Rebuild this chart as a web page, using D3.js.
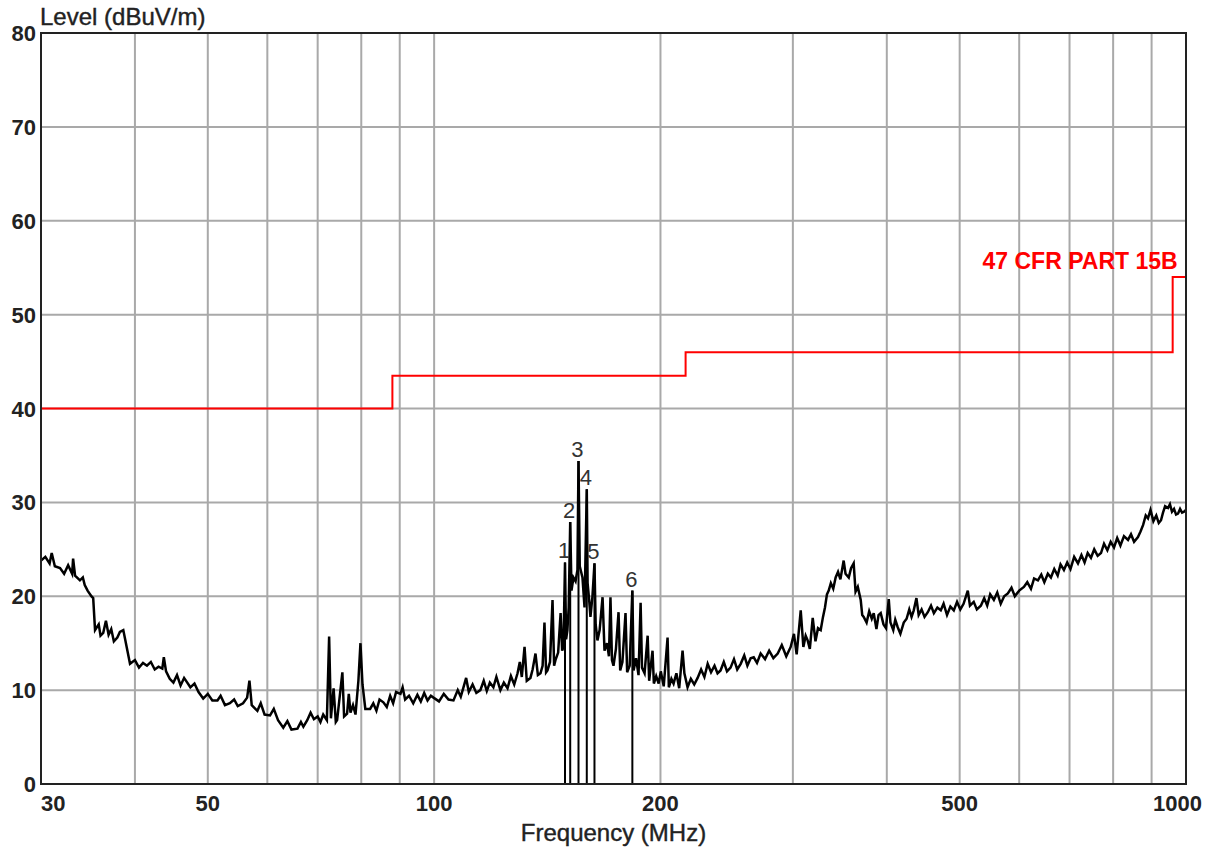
<!DOCTYPE html>
<html>
<head>
<meta charset="utf-8">
<script src="https://cdn.jsdelivr.net/npm/d3@7"></script>
<style>
  body { margin: 0; background: #fff; }
  svg { display: block; font-family: "Liberation Sans", Arial, sans-serif; }
</style>
</head>
<body>
<div class="container"></div>
<script>
// y axis
var levelTicks = [0, 10, 20, 30, 40, 50, 60, 70, 80];
// x axis
var freqGrid = [40, 50, 60, 70, 80, 90, 100, 200, 300, 400, 500, 600, 700, 800, 900];
var freqLabels = [30, 50, 100, 200, 500, 1000];

// limit line (step)
var limitMHz = [30, 88, 216, 960, 1000];
var limitDb = [40, 43.5, 46, 54, 54];
var limitName = '47 CFR PART 15B';

// markers
var markerNo = [1, 2, 3, 4, 5, 6];
var markerMHz = [149.3, 151.7, 155.6, 159.6, 163.4, 183.5];
var markerDb = [23.6, 27.9, 34.4, 31.4, 23.5, 20.6];

var trace = [
    [30, 23.8], [30.4, 24.2], [30.8, 23.5], [31.0, 24.6], [31.3, 23.2], [31.8, 23.0], [32.2, 22.4],
    [32.6, 23.3], [33.0, 22.4], [33.1, 24.0], [33.3, 22.2], [33.8, 21.7], [34.1, 22.0], [34.3, 21.2],
    [34.6, 20.6], [35.0, 20.0], [35.2, 19.8], [35.4, 16.4], [35.8, 17.0], [36.0, 15.8], [36.3, 16.1],
    [36.6, 17.4], [36.9, 15.9], [37.2, 16.5], [37.5, 15.2], [37.9, 15.6], [38.2, 16.2], [38.6, 16.4],
    [38.8, 15.5], [39.0, 14.6], [39.4, 12.8], [40.0, 13.2], [40.5, 12.4], [41.0, 12.9], [41.5, 12.6],
    [42.0, 13.0], [42.5, 12.2], [43.0, 12.5], [43.5, 12.3], [43.7, 13.5], [44.0, 12.0], [44.5, 11.2],
    [45.0, 10.8], [45.5, 11.6], [46.0, 10.5], [46.5, 11.3], [47.4, 10.3], [48.0, 10.7], [48.6, 9.8],
    [49.3, 9.1], [50.0, 9.6], [50.7, 8.9], [51.5, 8.9], [52.0, 9.4], [52.7, 8.4], [53.5, 8.6],
    [54.2, 9.0], [54.8, 8.3], [55.7, 8.6], [56.4, 9.2], [56.8, 11.0], [57.2, 8.4], [58.2, 7.8],
    [58.8, 8.6], [59.5, 7.4], [60.5, 7.3], [61.2, 8.0], [62.0, 6.8], [63.0, 6.0], [63.8, 6.7],
    [64.6, 5.8], [65.8, 5.9], [66.5, 6.6], [67.0, 6.1], [67.8, 6.8], [68.5, 7.6], [69.2, 6.9],
    [70.0, 7.2], [70.6, 6.6], [71.2, 7.4], [72.0, 6.8], [72.5, 15.7], [72.9, 7.0], [73.5, 10.2],
    [74.0, 6.6], [74.3, 6.8], [75.5, 11.9], [75.9, 7.2], [76.6, 7.5], [77.0, 9.6], [77.4, 7.6],
    [78.0, 8.4], [78.6, 7.4], [79.3, 11.0], [79.8, 15.0], [80.3, 10.6], [81.0, 8.0], [82.2, 8.0],
    [83.0, 8.6], [83.8, 7.8], [84.6, 9.0], [85.6, 8.7], [86.5, 8.2], [87.4, 9.4], [88.2, 8.6],
    [89.0, 9.8], [90.2, 9.6], [90.8, 10.3], [91.5, 9.0], [92.6, 9.4], [93.8, 8.6], [95.0, 9.5],
    [96.0, 8.8], [97.0, 9.7], [98.0, 8.9], [99.0, 9.4], [99.8, 9.2], [101.5, 8.8], [103.0, 9.6],
    [104.5, 9.0], [106.1, 8.9], [107.5, 10.0], [108.5, 9.3], [109.4, 10.3], [110.3, 11.3], [111.2, 9.8],
    [112.5, 10.6], [113.8, 9.7], [115.2, 10.0], [116.4, 11.0], [117.5, 9.9], [118.6, 10.8], [119.9, 10.3],
    [121.0, 11.4], [122.5, 10.0], [123.8, 10.8], [125.2, 10.2], [126.5, 11.5], [127.8, 10.6], [129.1, 11.8],
    [130.0, 13.0], [130.8, 11.4], [131.9, 14.6], [132.8, 11.0], [134.3, 11.3], [135.2, 12.2], [136.4, 13.9],
    [137.4, 11.6], [138.5, 11.8], [139.4, 12.6], [140.2, 17.2], [140.9, 11.9], [141.5, 12.1], [142.6, 13.0],
    [143.7, 19.6], [144.4, 12.6], [145.0, 13.2], [146.2, 14.0], [147.3, 18.2], [148.0, 14.2], [148.6, 14.6],
    [149.3, 23.6], [149.8, 15.4], [150.4, 16.4], [151.0, 18.8], [151.7, 27.9], [152.3, 20.6], [153.2, 22.0],
    [154.2, 21.6], [155.1, 22.8], [155.6, 34.4], [156.2, 23.2], [157.5, 22.0], [158.5, 18.8], [159.6, 31.4],
    [160.0, 21.4], [160.8, 19.5], [161.4, 17.8], [162.4, 20.0], [163.4, 23.5], [164.0, 17.0], [164.9, 15.3],
    [166.0, 16.4], [167.5, 19.9], [168.5, 14.2], [169.8, 15.0], [170.8, 13.6], [171.6, 19.9], [172.4, 13.2],
    [173.2, 12.6], [174.5, 14.4], [175.9, 18.3], [176.8, 12.1], [178.0, 13.0], [179.7, 18.2], [180.6, 11.9],
    [182.0, 12.6], [183.5, 20.6], [184.2, 12.1], [185.6, 13.4], [187.0, 11.6], [188.2, 19.3], [189.0, 12.4],
    [190.5, 11.8], [192.3, 15.8], [193.2, 11.0], [195.2, 14.2], [196.0, 10.7], [197.4, 11.5], [198.9, 10.7],
    [200.2, 12.0], [202.0, 10.4], [204.4, 15.6], [205.2, 10.3], [206.8, 11.2], [208.2, 10.7], [210.0, 11.8],
    [211.8, 10.2], [214.0, 14.2], [215.2, 11.8], [217.3, 10.3], [219.5, 11.2], [221.8, 10.6], [224.1, 11.3],
    [226.5, 12.2], [228.8, 11.4], [231.1, 12.8], [233.5, 11.9], [236.0, 12.6], [238.2, 11.8], [240.4, 12.1],
    [242.8, 13.0], [245.2, 12.0], [247.9, 12.4], [250.5, 13.3], [253.0, 12.2], [255.7, 12.8], [258.5, 13.7],
    [261.0, 12.6], [263.6, 13.4], [266.1, 13.5], [268.8, 12.9], [271.8, 13.9], [275.5, 13.3], [279.0, 14.2],
    [282.6, 13.4], [286.4, 13.9], [290.0, 14.8], [294.0, 13.6], [298.0, 14.6], [301.0, 16.0], [303.5, 13.8],
    [307.3, 18.5], [309.8, 14.6], [312.0, 15.8], [313.9, 15.3], [316.0, 14.4], [318.8, 17.7], [321.5, 15.2],
    [324.0, 16.6], [326.7, 16.4], [329.0, 17.8], [331.0, 18.8], [333.0, 20.2], [334.8, 20.6], [337.0, 21.4],
    [339.5, 20.8], [342.0, 22.0], [344.5, 22.6], [347.0, 21.8], [350.5, 23.8], [352.5, 22.4], [356.0, 22.0],
    [358.5, 23.0], [361.4, 23.5], [363.5, 20.5], [366.0, 21.0], [369.3, 19.6], [371.0, 18.0], [372.7, 17.8],
    [376.0, 17.2], [379.0, 18.4], [382.0, 17.6], [384.3, 18.2], [387.5, 16.5], [390.0, 18.0], [392.6, 18.2],
    [396.0, 17.0], [399.0, 16.6], [402.4, 19.7], [404.5, 17.2], [408.0, 16.4], [410.5, 17.5], [413.6, 16.7],
    [417.0, 16.0], [421.3, 17.2], [425.0, 17.6], [428.5, 18.6], [431.5, 17.8], [434.4, 18.5], [438.0, 19.8],
    [441.0, 18.0], [445.0, 18.6], [449.0, 17.8], [453.5, 18.3], [458.0, 19.0], [462.0, 18.2], [467.0, 18.8],
    [471.9, 18.5], [476.0, 19.2], [481.0, 18.0], [486.0, 18.9], [491.1, 18.5], [496.0, 19.4], [501.0, 18.6],
    [506.0, 19.2], [512.6, 20.6], [516.0, 19.0], [522.0, 19.4], [527.0, 18.6], [533.5, 19.0], [539.0, 19.8],
    [544.0, 19.0], [549.0, 20.2], [555.2, 19.6], [561.0, 20.4], [567.0, 19.2], [573.0, 20.0], [579.5, 20.3],
    [586.0, 20.9], [592.0, 20.0], [600.0, 20.6], [608.7, 21.0], [615.0, 21.5], [622.0, 20.8], [628.0, 21.9],
    [635.4, 21.7], [642.0, 22.3], [648.0, 21.5], [655.0, 22.4], [661.2, 22.0], [668.0, 22.9], [675.0, 22.2],
    [681.0, 23.4], [688.1, 22.8], [695.0, 23.6], [702.0, 22.9], [710.0, 24.2], [718.3, 23.5], [726.0, 24.4],
    [733.0, 23.6], [740.0, 24.6], [747.5, 24.1], [755.0, 25.0], [763.0, 24.3], [770.8, 24.6], [778.0, 25.6],
    [786.0, 24.9], [794.0, 25.8], [802.1, 25.2], [810.0, 26.2], [818.0, 25.4], [827.0, 26.4], [837.3, 26.0],
    [845.0, 26.6], [853.0, 25.8], [863.2, 26.3], [870.0, 26.9], [877.0, 27.6], [884.0, 28.6], [890.1, 28.3],
    [897.0, 29.2], [905.0, 28.0], [913.0, 28.6], [920.0, 27.8], [926.3, 28.1], [932.0, 28.9], [938.0, 29.6],
    [946.4, 29.4], [952.0, 29.8], [958.0, 29.0], [964.0, 29.3], [970.0, 28.7], [975.8, 28.8], [982.0, 29.3],
    [988.0, 28.9], [993.9, 29.0], [1000, 29.2]
];

var WIDTH = 1216, HEIGHT = 847;
var LEFT = 41, RIGHT = 1186, TOP = 33, BOTTOM = 784;
var GRID = '#a9a9a9';

var xScale = d3.scaleLog().domain([30, 1000]).range([LEFT, RIGHT]);
var yScale = d3.scaleLinear().domain([0, 80]).range([BOTTOM, TOP]);

var visualize = function () {
    var svg = d3.select('.container').append('svg')
        .attr('width', WIDTH)
        .attr('height', HEIGHT);

    // grid
    svg.append('g').selectAll('line')
        .data(freqGrid)
        .enter().append('line')
        .attr('x1', function (d) { return xScale(d); })
        .attr('x2', function (d) { return xScale(d); })
        .attr('y1', TOP).attr('y2', BOTTOM)
        .attr('stroke', GRID).attr('stroke-width', 2);

    svg.append('g').selectAll('line')
        .data(levelTicks.slice(1, -1))
        .enter().append('line')
        .attr('x1', LEFT).attr('x2', RIGHT)
        .attr('y1', function (d) { return yScale(d); })
        .attr('y2', function (d) { return yScale(d); })
        .attr('stroke', GRID).attr('stroke-width', 2);

    // limit
    var limitPts = limitMHz.map(function (f, i) { return [f, limitDb[i]]; });
    svg.append('path')
        .datum(limitPts)
        .attr('d', d3.line()
            .x(function (d) { return xScale(d[0]); })
            .y(function (d) { return yScale(d[1]); })
            .curve(d3.curveStepAfter))
        .attr('fill', 'none')
        .attr('stroke', '#ff0000')
        .attr('stroke-width', 2);

    svg.append('text')
        .attr('x', xScale(960) + 5)
        .attr('y', yScale(54) - 8)
        .attr('text-anchor', 'end')
        .attr('fill', '#ff0000')
        .attr('font-weight', 'bold')
        .attr('font-size', 23)
        .text(limitName);

    // trace
    svg.append('path')
        .datum(trace)
        .attr('d', d3.line()
            .x(function (d) { return xScale(d[0]); })
            .y(function (d) { return yScale(d[1]); }))
        .attr('fill', 'none')
        .attr('stroke', '#000')
        .attr('stroke-width', 2.5)
        .attr('stroke-linejoin', 'miter');

    // markers
    var markers = markerNo.map(function (n, i) {
        return {n: n, f: markerMHz[i], v: markerDb[i]};
    });
    var mk = svg.append('g').selectAll('g')
        .data(markers)
        .enter().append('g');
    mk.append('line')
        .attr('x1', function (d) { return xScale(d.f); })
        .attr('x2', function (d) { return xScale(d.f); })
        .attr('y1', yScale(0))
        .attr('y2', function (d) { return yScale(d.v); })
        .attr('stroke', '#000')
        .attr('stroke-width', 2);
    mk.append('text')
        .attr('x', function (d) { return xScale(d.f) - 1; })
        .attr('y', function (d) { return yScale(d.v) - 4; })
        .attr('text-anchor', 'middle')
        .attr('font-size', 22)
        .attr('fill', '#333')
        .text(function (d) { return d.n; });

    // frame
    svg.append('rect')
        .attr('x', LEFT).attr('y', TOP)
        .attr('width', RIGHT - LEFT).attr('height', BOTTOM - TOP)
        .attr('fill', 'none')
        .attr('stroke', '#222')
        .attr('stroke-width', 2);

    // y labels
    svg.append('g').selectAll('text')
        .data(levelTicks)
        .enter().append('text')
        .attr('x', 36)
        .attr('y', function (d) { return yScale(d) + 8; })
        .attr('text-anchor', 'end')
        .attr('font-weight', 'bold')
        .attr('font-size', 22)
        .attr('fill', '#222')
        .text(function (d) { return d; });

    // x labels
    svg.append('g').selectAll('text')
        .data(freqLabels)
        .enter().append('text')
        .attr('x', function (d, i) {
            if (i === 0) return xScale(d);
            if (i === freqLabels.length - 1) return xScale(d) + 16;
            return xScale(d);
        })
        .attr('y', 811)
        .attr('text-anchor', function (d, i) {
            if (i === 0) return 'start';
            if (i === freqLabels.length - 1) return 'end';
            return 'middle';
        })
        .attr('font-weight', 'bold')
        .attr('font-size', 22)
        .attr('fill', '#222')
        .text(function (d) { return d; });

    svg.append('text')
        .attr('x', 40).attr('y', 25)
        .attr('font-size', 24)
        .attr('fill', '#222')
        .attr('stroke', '#222')
        .attr('stroke-width', 0.4)
        .text('Level (dBuV/m)');

    svg.append('text')
        .attr('x', (LEFT + RIGHT) / 2).attr('y', 841)
        .attr('text-anchor', 'middle')
        .attr('font-size', 24)
        .attr('fill', '#222')
        .attr('stroke', '#222')
        .attr('stroke-width', 0.4)
        .text('Frequency (MHz)');
};

window.onload = visualize;
</script>
</body>
</html>
